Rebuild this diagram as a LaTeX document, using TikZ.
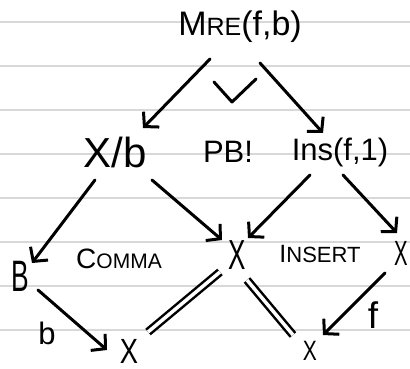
\documentclass[tikz,border=0pt]{standalone}
\usepackage{fontspec}
\setmainfont{Liberation Sans}
\usetikzlibrary{arrows.meta}
\definecolor{rulegray}{RGB}{216,216,216}
\newcommand{\fsz}[1]{\fontsize{#1}{#1}\selectfont}
\newcommand{\narrow}[2]{\scalebox{#1}[1]{#2}}
\tikzset{
  ruleline/.style={draw=rulegray, line width=1.5pt},
  arr/.style={line width=3pt, line cap=round, line join=round,
    -{Straight Barb[length=10pt,width=22pt,line width=3pt]}},
  dbl/.style={line width=2.5pt, double=white, double distance=3.5pt},
  lbl/.style={inner sep=0pt, anchor=center},
}
\begin{document}
\begin{tikzpicture}[x=1pt,y=-1pt]
\fill[white] (0,0) rectangle (410,369);
\useasboundingbox (0,0) rectangle (410,369);
\foreach \y in {22,66,...,330} \draw[ruleline] (0,\y) -- (410,\y);

\node[lbl] (mre) at (240,27) {\fsz{34}M{\fsz{25}RE}(f,b)};
\node[lbl] (xb) at (115,152) {\fsz{42}X/b};
\node[lbl] (pb) at (228,152) {\fsz{31}PB!};
\node[lbl] (ins) at (340,152) {\fsz{31}Ins(f,1)};
\node[lbl] (B) at (20,276) {\fsz{44}\narrow{0.6}{B}};
\node[lbl] (comma) at (119,259) {\fsz{28}C{\fsz{21}OMMA}};
\node[lbl] (xm) at (237,255) {\fsz{42}\narrow{0.62}{X}};
\node[lbl] (insert) at (320,254) {\fsz{25}I{\fsz{22}NSERT}};
\node[lbl] (xr) at (401,253) {\fsz{35}\narrow{0.58}{X}};
\node[lbl] (xbl) at (129,351) {\fsz{35}\narrow{0.78}{X}};
\node[lbl] (xbr) at (310,351) {\fsz{28}\narrow{0.75}{X}};
\node[lbl] (lb) at (47,333) {\fsz{31}b};
\node[lbl] (lf) at (373,315) {\fsz{37}f};

\draw[line width=3pt, line cap=round, line join=round] (214,82) -- (232,102) -- (256,79);

\draw[arr] ([shift={(-30,32)}]mre.center) -- ([shift={(28,-24)}]xb.center);
\draw[arr] ([shift={(20,36)}]mre.center) -- ([shift={(-17,-19)}]ins.center);
\draw[arr] ([shift={(-20,28)}]xb.center) -- ([shift={(12,-13)}]B.center);
\draw[arr] ([shift={(37,28)}]xb.center) -- ([shift={(-15,-15)}]xm.center);
\draw[arr] ([shift={(-30,23)}]ins.center) -- ([shift={(11,-17)}]xm.center);
\draw[arr] ([shift={(3,23)}]ins.center) -- ([shift={(-4,-20)}]xr.center);
\draw[arr] ([shift={(18,14)}]B.center) -- ([shift={(-22,-1)}]xbl.center);
\draw[arr] ([shift={(-16,20)}]xr.center) -- ([shift={(13,-16)}]xbr.center);
\draw[dbl] ([shift={(-17,17)}]xm.center) -- ([shift={(19,-19)}]xbl.center);
\draw[dbl] ([shift={(10,25)}]xm.center) -- ([shift={(-17,-16)}]xbr.center);
\end{tikzpicture}
\end{document}
